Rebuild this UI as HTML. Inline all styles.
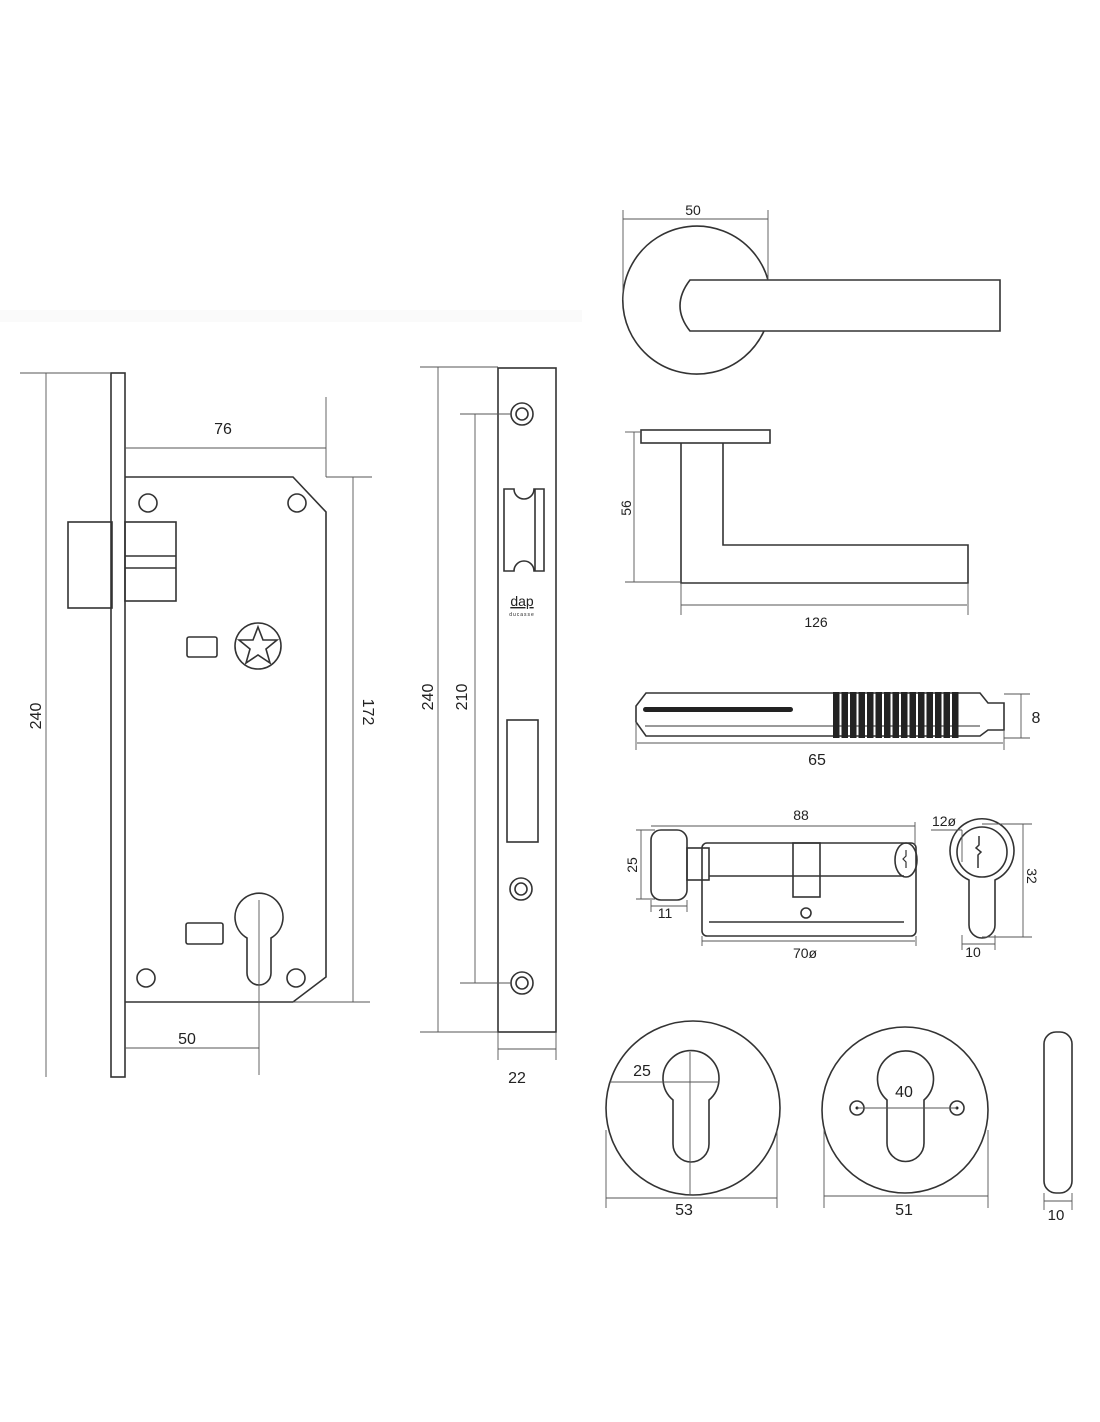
<!DOCTYPE html>
<html><head><meta charset="utf-8"><style>
html,body{margin:0;padding:0;background:#fff;}
svg{display:block;}
text{font-family:"Liberation Sans","DejaVu Sans",sans-serif;fill:#222;}
</style></head><body>
<svg width="1100" height="1422" viewBox="0 0 1100 1422" xmlns="http://www.w3.org/2000/svg">
<rect x="0" y="310" width="582" height="12" fill="#fafafa"/>
<g fill="none" stroke="#333" stroke-width="1.6">
<!-- lock -->
<rect x="111" y="373" width="14" height="704"/>
<path d="M125 477 H293 L326 512 V977 L293 1002 H125"/>
<rect x="68" y="522" width="44" height="86"/>
<rect x="125" y="522" width="51" height="79"/>
<line x1="125" y1="556" x2="176" y2="556"/><line x1="125" y1="568" x2="176" y2="568"/>
<circle cx="148" cy="503" r="9"/><circle cx="297" cy="503" r="9"/>
<circle cx="146" cy="978" r="9"/><circle cx="296" cy="978" r="9"/>
<rect x="187" y="637" width="30" height="20" rx="2"/>
<circle cx="258" cy="646" r="23"/>
<polygon points="258,627 263,640 277,640 266,649 270,663 258,655 246,663 250,649 239,640 253,640"/>
<rect x="186" y="923" width="37" height="21" rx="2"/>
<path d="M247 938 A24 24 0 1 1 271 938 V973 A12 12 0 0 1 247 973 Z"/>
<!-- faceplate -->
<rect x="498" y="368" width="58" height="664"/>
<circle cx="522" cy="414" r="11"/><circle cx="522" cy="414" r="6"/>
<circle cx="521" cy="889" r="11"/><circle cx="521" cy="889" r="6"/>
<circle cx="522" cy="983" r="11"/><circle cx="522" cy="983" r="6"/>
<path d="M504 489 H514 A10 10 0 0 0 534 489 H544 V571 H534 A10 10 0 0 0 514 571 H504 Z"/>
<line x1="535" y1="489" x2="535" y2="571"/>
<rect x="507" y="720" width="31" height="122"/>
<!-- handle top -->
<path d="M768 280 A74 74 0 1 0 764 331"/>
<path d="M690 280 H1000 V331 H690 Q670 306 690 280 Z"/>
<!-- handle side -->
<rect x="641" y="430" width="129" height="13"/>
<path d="M681 443 V583 H968 V545 H723 V443"/>
<!-- spindle -->
<path d="M646 693 H980 L988 703 H1004 V730 H988 L980 736 H646 L636 722 V706 Z"/>
<line x1="645" y1="726" x2="980" y2="726" stroke-width="1"/>
<!-- cylinder -->
<rect x="651" y="830" width="36" height="70" rx="10"/>
<rect x="687" y="848" width="22" height="32"/>
<rect x="702" y="843" width="214" height="93" rx="5"/>
<line x1="709" y1="876" x2="904" y2="876"/>
<line x1="709" y1="922" x2="904" y2="922"/>
<rect x="793" y="843" width="27" height="54"/>
<circle cx="806" cy="913" r="5"/>
<ellipse cx="906" cy="860" rx="11" ry="17"/>
<path d="M906 850 v6 l-3 3 l3 3 v6" stroke-width="1.2"/>
<path d="M969 880 A32 32 0 1 1 995 880 V925 A13 13 0 0 1 969 925 Z"/>
<circle cx="982" cy="852" r="25"/>
<path d="M979 836 v9 l-3 3 l5 4 l-3 3 v13" stroke-width="1.5"/>
<!-- rosettes -->
<circle cx="693" cy="1108" r="87"/>
<path d="M673 1100 A28 28 0 1 1 709 1100 V1144 A18 18 0 0 1 673 1144 Z"/>
<circle cx="905" cy="1110" r="83"/>
<path d="M887 1100 A28 28 0 1 1 924 1100 V1143 A18 18 0 0 1 887 1143 Z"/>
<circle cx="857" cy="1108" r="7"/><circle cx="957" cy="1108" r="7"/>
<rect x="1044" y="1032" width="28" height="161" rx="12"/>
</g>
<g fill="#222">
<rect x="643" y="707" width="150" height="5" rx="2.5"/>
<rect x="833" y="692" width="6.5" height="46"/><rect x="841.5" y="692" width="6.5" height="46"/><rect x="850" y="692" width="6.5" height="46"/><rect x="858.5" y="692" width="6.5" height="46"/><rect x="867" y="692" width="6.5" height="46"/><rect x="875.5" y="692" width="6.5" height="46"/><rect x="884" y="692" width="6.5" height="46"/><rect x="892.5" y="692" width="6.5" height="46"/><rect x="901" y="692" width="6.5" height="46"/><rect x="909.5" y="692" width="6.5" height="46"/><rect x="918" y="692" width="6.5" height="46"/><rect x="926.5" y="692" width="6.5" height="46"/><rect x="935" y="692" width="6.5" height="46"/><rect x="943.5" y="692" width="6.5" height="46"/><rect x="952" y="692" width="6.5" height="46"/>
<circle cx="857" cy="1108" r="1.5"/><circle cx="957" cy="1108" r="1.5"/>
</g>
<!-- dimension lines -->
<g fill="none" stroke="#555" stroke-width="0.9">
<line x1="46" y1="373" x2="46" y2="1077"/><line x1="20" y1="373" x2="111" y2="373"/>
<line x1="125" y1="448" x2="326" y2="448"/><line x1="326" y1="397" x2="326" y2="477"/>
<line x1="353" y1="477" x2="353" y2="1002"/><line x1="326" y1="477" x2="372" y2="477"/><line x1="293" y1="1002" x2="370" y2="1002"/>
<line x1="125" y1="1048" x2="259" y2="1048"/><line x1="259" y1="900" x2="259" y2="1075"/>
<line x1="438" y1="367" x2="438" y2="1032"/><line x1="420" y1="1032" x2="498" y2="1032"/><line x1="420" y1="367" x2="498" y2="367"/>
<line x1="475" y1="414" x2="475" y2="983"/><line x1="460" y1="414" x2="511" y2="414"/><line x1="460" y1="983" x2="511" y2="983"/>
<line x1="498" y1="1049" x2="556" y2="1049"/><line x1="498" y1="1032" x2="498" y2="1060"/><line x1="556" y1="1032" x2="556" y2="1060"/>
<line x1="623" y1="219" x2="768" y2="219"/><line x1="623" y1="210" x2="623" y2="300"/><line x1="768" y1="210" x2="768" y2="280"/>
<line x1="634" y1="432" x2="634" y2="582"/><line x1="625" y1="432" x2="641" y2="432"/><line x1="625" y1="582" x2="681" y2="582"/>
<line x1="681" y1="605" x2="967" y2="605"/><line x1="681" y1="583" x2="681" y2="615"/><line x1="968" y1="583" x2="968" y2="615"/>
<line x1="1021" y1="694" x2="1021" y2="738"/><line x1="1004" y1="694" x2="1030" y2="694"/><line x1="1004" y1="738" x2="1030" y2="738"/>
<line x1="637" y1="743" x2="1003" y2="743"/><line x1="636" y1="722" x2="636" y2="750"/><line x1="1004" y1="730" x2="1004" y2="750"/>
<line x1="651" y1="826" x2="915" y2="826"/><line x1="915" y1="822" x2="915" y2="845"/>
<line x1="641" y1="830" x2="641" y2="899"/><line x1="636" y1="830" x2="655" y2="830"/><line x1="636" y1="899" x2="655" y2="899"/>
<line x1="651" y1="906" x2="687" y2="906"/><line x1="651" y1="900" x2="651" y2="912"/><line x1="687" y1="900" x2="687" y2="912"/>
<line x1="702" y1="941" x2="915" y2="941"/><line x1="702" y1="936" x2="702" y2="946"/><line x1="916" y1="936" x2="916" y2="946"/>
<line x1="931" y1="830" x2="962" y2="830"/><line x1="962" y1="830" x2="962" y2="862"/>
<line x1="1023" y1="824" x2="1023" y2="937"/><line x1="982" y1="824" x2="1032" y2="824"/><line x1="982" y1="937" x2="1032" y2="937"/>
<line x1="962" y1="944" x2="995" y2="944"/><line x1="962" y1="935" x2="962" y2="950"/><line x1="995" y1="935" x2="995" y2="950"/>
<line x1="610" y1="1082" x2="719" y2="1082"/><line x1="690" y1="1052" x2="690" y2="1195"/>
<line x1="606" y1="1198" x2="777" y2="1198"/><line x1="606" y1="1130" x2="606" y2="1208"/><line x1="777" y1="1130" x2="777" y2="1208"/>
<line x1="857" y1="1108" x2="957" y2="1108"/>
<line x1="824" y1="1196" x2="988" y2="1196"/><line x1="824" y1="1130" x2="824" y2="1208"/><line x1="988" y1="1130" x2="988" y2="1208"/>
<line x1="1044" y1="1201" x2="1072" y2="1201"/><line x1="1044" y1="1193" x2="1044" y2="1210"/><line x1="1072" y1="1193" x2="1072" y2="1210"/>
</g>
<!-- labels -->
<g font-size="16" text-anchor="middle">
<text x="223" y="434">76</text>
<text x="187" y="1044">50</text>
<text x="517" y="1083">22</text>
<text x="693" y="215" font-size="14">50</text>
<text x="816" y="627" font-size="14">126</text>
<text x="817" y="765">65</text>
<text x="1036" y="723">8</text>
<text x="801" y="820" font-size="14">88</text>
<text x="665" y="918" font-size="14">11</text>
<text x="805" y="958" font-size="14">70ø</text>
<text x="944" y="826" font-size="14">12ø</text>
<text x="973" y="957" font-size="14">10</text>
<text x="642" y="1076">25</text>
<text x="684" y="1215">53</text>
<text x="904" y="1097">40</text>
<text x="904" y="1215">51</text>
<text x="1056" y="1220" font-size="15">10</text>
<text transform="translate(41,716) rotate(-90)">240</text>
<text transform="translate(363,712) rotate(90)">172</text>
<text transform="translate(433,697) rotate(-90)">240</text>
<text transform="translate(467,697) rotate(-90)">210</text>
<text transform="translate(631,508) rotate(-90)" font-size="14">56</text>
<text transform="translate(637,865) rotate(-90)" font-size="14">25</text>
<text transform="translate(1027,876) rotate(90)" font-size="14">32</text>
<text x="522" y="606" font-size="14" text-decoration="underline">dap</text>
<text x="522" y="616" font-size="5" letter-spacing="1">ducasse</text>
</g>
</svg>
</body></html>
